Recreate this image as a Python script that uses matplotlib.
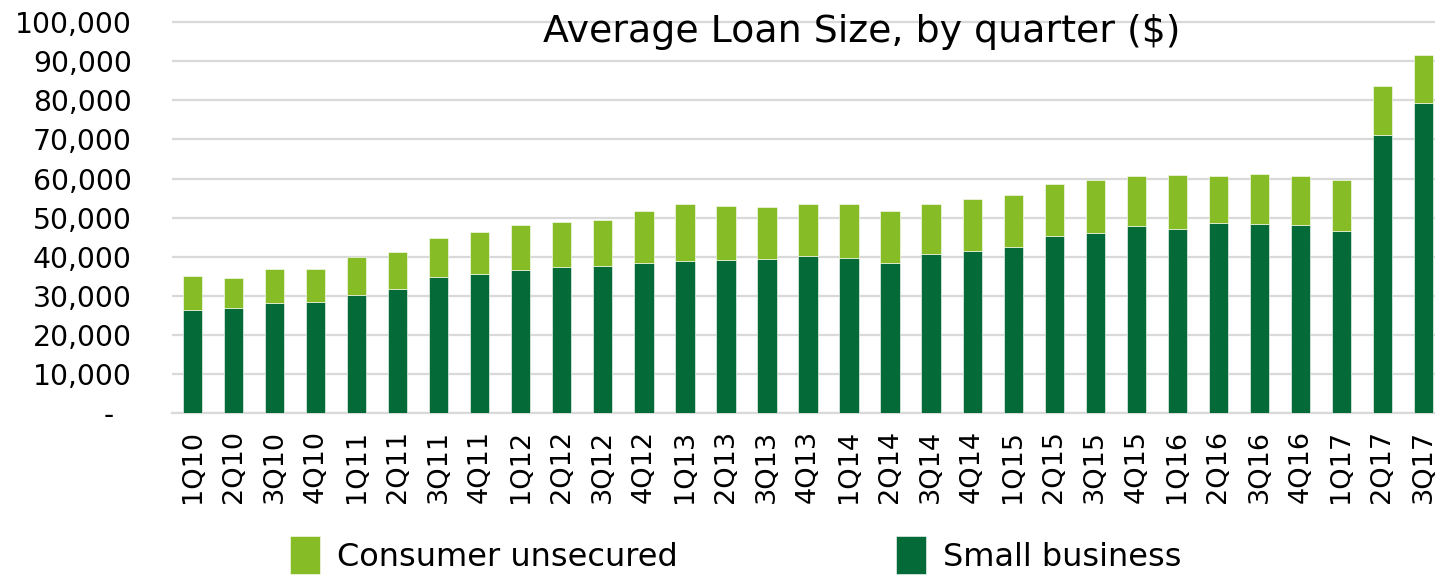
import matplotlib
matplotlib.use("Agg")
import matplotlib.pyplot as plt
import numpy as np

quarters = ["1Q10", "2Q10", "3Q10", "4Q10", "1Q11", "2Q11", "3Q11", "4Q11",
            "1Q12", "2Q12", "3Q12", "4Q12", "1Q13", "2Q13", "3Q13", "4Q13",
            "1Q14", "2Q14", "3Q14", "4Q14", "1Q15", "2Q15", "3Q15", "4Q15",
            "1Q16", "2Q16", "3Q16", "4Q16", "1Q17", "2Q17", "3Q17"]

small_business = [26500, 26800, 28300, 28500, 30200, 31800, 34900, 35500,
                  36500, 37500, 37700, 38500, 38900, 39300, 39400, 40200,
                  39600, 38400, 40700, 41600, 42400, 45200, 46200, 47900,
                  47200, 48600, 48400, 48000, 46500, 71200, 79200]

total = [35100, 34600, 36900, 36900, 40000, 41300, 44800, 46400,
         48000, 48800, 49400, 51600, 53600, 52900, 52700, 53500,
         53500, 51700, 53500, 54700, 55800, 58600, 59700, 60700,
         60900, 60700, 61200, 60700, 59700, 83700, 91600]

consumer_unsecured = [t - s for t, s in zip(total, small_business)]

yticks = list(range(0, 100001, 10000))

DARK = "#046A38"
LIGHT = "#86BC25"

fig = plt.figure(figsize=(14.35, 5.76), dpi=100)
# axes spans 0 .. 100,500 so the top gridline is fully visible
px_per_unit = (413.3 - 22) / 100000
top_px = 413.3 - px_per_unit * 100500
ax = fig.add_axes([172 / 1435, 1 - 413.3 / 576, 1 - 172 / 1435, (413.3 - top_px) / 576])

x = np.arange(len(quarters))
w = 0.47
ax.bar(x, small_business, width=w, color=DARK, edgecolor="white", linewidth=0.4,
       label="Small business", zorder=3)
ax.bar(x, consumer_unsecured, width=w, bottom=small_business, color=LIGHT,
       edgecolor="white", linewidth=0.4, label="Consumer unsecured", zorder=3)

ax.set_xlim(-0.5, 30.28)
ax.set_ylim(0, 100500)
ax.set_yticks(yticks)
ax.set_yticklabels([f"{v:,}" if v else "-  " for v in yticks])
ax.set_xticks(x)
ax.set_xticklabels(quarters, rotation=90)

ax.grid(axis="y", color="#d9d9d9", linewidth=1.6, zorder=0)
ax.set_axisbelow(True)
for s in ["top", "right", "left"]:
    ax.spines[s].set_visible(False)
ax.spines["bottom"].set_color("#d9d9d9")
ax.spines["bottom"].set_linewidth(1.6)
ax.tick_params(axis="y", length=0, pad=29, labelsize=20.3)
ax.tick_params(axis="x", length=0, pad=12, labelsize=19.5)

fig.text(862 / 1435, 1 - 32 / 576, "Average Loan Size, by quarter ($)",
         ha="center", va="center", fontsize=27.3)

handles, labels = ax.get_legend_handles_labels()
leg = fig.legend(handles[::-1], labels[::-1], ncol=2, loc="center",
                 bbox_to_anchor=(736 / 1435, 1 - 555 / 576), frameon=False,
                 fontsize=23, handlelength=0.94, handleheight=1.5,
                 handletextpad=0.53, columnspacing=6.83, borderpad=0)

fig.savefig("out.png", dpi=100)
